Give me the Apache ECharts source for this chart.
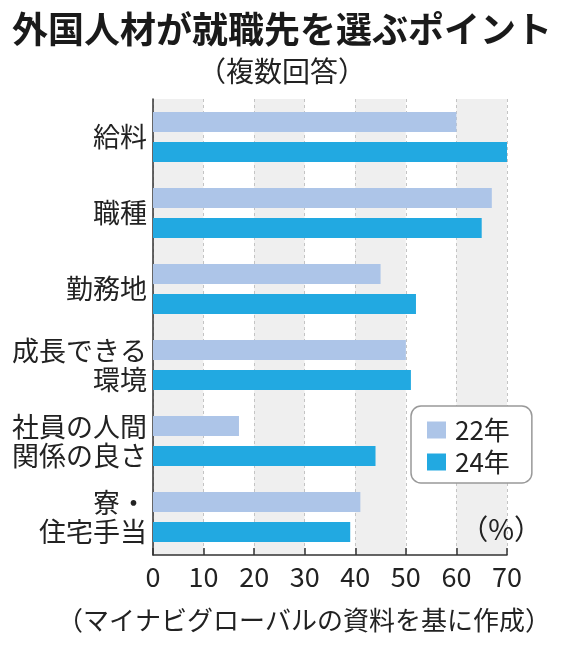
<!DOCTYPE html>
<html><head><meta charset="utf-8">
<script src="https://cdn.jsdelivr.net/npm/echarts@6/dist/echarts.min.js"></script>
<style>html,body{margin:0;padding:0;background:#fff}#c{width:564px;height:650px}</style>
</head><body><div id="c"></div>
<script>
const categories = ['給料', '職種', '勤務地', '成長できる\n環境', '社員の人間\n関係の良さ', '寮・\n住宅手当'];
const series22 = [60, 67, 45, 50, 17, 41];
const series24 = [70, 65, 52, 51, 44, 39];
const seriesNames = ['22年', '24年'];
const xTicks = [0, 10, 20, 30, 40, 50, 60, 70];

const FF = '"Noto Sans CJK JP", "Noto Sans", sans-serif';
const chart = echarts.init(document.getElementById('c'), null, {renderer: 'canvas'});
chart.setOption({
  backgroundColor: '#fff',
  animation: false,
  textStyle: {fontFamily: FF, color: '#222'},
  title: [
    {text: '外国人材が就職先を選ぶポイント', left: 'center', top: 6,
     textStyle: {fontFamily: FF, fontSize: 36, fontWeight: 'bold', color: '#1a1a1a'}},
    {text: '（複数回答）', left: 'center', top: 52,
     textStyle: {fontFamily: FF, fontSize: 28, fontWeight: 'normal', color: '#222'}},
    {text: '（マイナビグローバルの資料を基に作成）', right: 8, top: 602,
     textStyle: {fontFamily: FF, fontSize: 26, fontWeight: 'normal', color: '#222'}}
  ],
  legend: {
    orient: 'vertical', left: 411, top: 406,
    data: seriesNames,
    icon: 'rect', itemWidth: 19, itemHeight: 17, itemGap: 6,
    padding: [11, 22, 8, 16],
    backgroundColor: '#fff', borderColor: '#999', borderWidth: 1.5, borderRadius: 10,
    textStyle: {fontFamily: FF, fontSize: 26, color: '#222', lineHeight: 26, padding: [0, 0, 0, 4]}
  },
  grid: {left: 153, right: 57, top: 99, bottom: 95, containLabel: false},
  xAxis: {
    type: 'value', min: xTicks[0], max: xTicks[xTicks.length - 1], interval: 10,
    axisLine: {show: true, lineStyle: {color: '#333', width: 1.5}},
    axisTick: {show: true, inside: true, length: 7, lineStyle: {color: '#333', width: 1.5}},
    axisLabel: {fontFamily: FF, fontSize: 27, color: '#222', margin: 8},
    splitLine: {show: true, lineStyle: {color: '#c4c4c4', type: [3, 3], width: 1}},
    splitArea: {show: true, areaStyle: {color: ['#efefef', '#ffffff']}}
  },
  yAxis: {
    type: 'category', data: categories, inverse: true,
    axisLine: {show: true, lineStyle: {color: '#333', width: 1.5}},
    axisTick: {show: false},
    axisLabel: {fontFamily: FF, fontSize: 27, color: '#222', margin: 6, lineHeight: 29, align: 'right'}
  },
  graphic: [
    {type: 'text', right: 22, top: 515, z: 100, zlevel: 1,
     style: {text: '（%）', font: '28px ' + FF, fill: '#222'}}
  ],
  series: [
    {name: seriesNames[0], type: 'bar', data: series22, barWidth: 20, barGap: '50%',
     itemStyle: {color: '#adc5e8'}},
    {name: seriesNames[1], type: 'bar', data: series24, barWidth: 20, barGap: '50%',
     itemStyle: {color: '#22a9e1'}}
  ]
});
</script></body></html>
